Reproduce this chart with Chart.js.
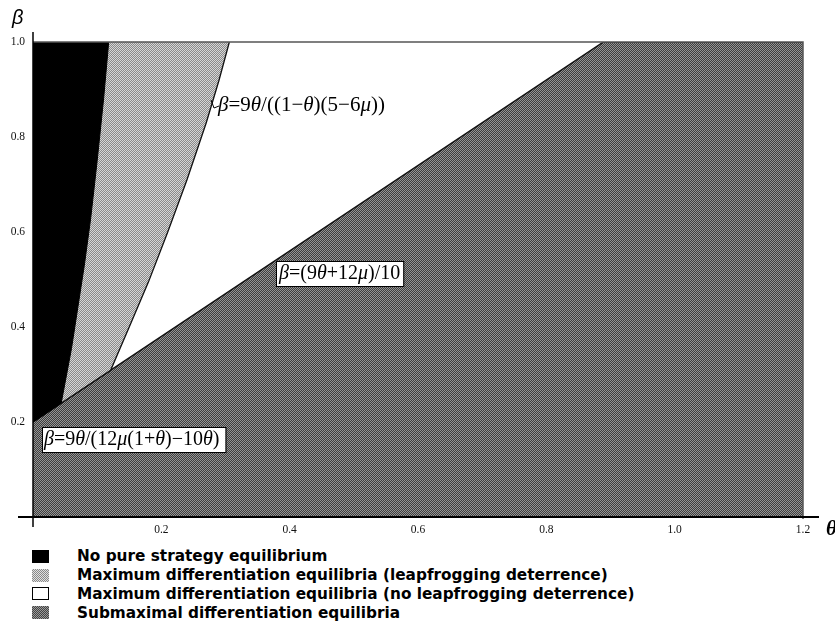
<!DOCTYPE html>
<html>
<head>
<meta charset="utf-8">
<script src="https://cdn.jsdelivr.net/npm/chart.js@4"></script>
<style>
    body { margin: 0; background: #fff; width: 835px; height: 644px; overflow: hidden; position: relative; }
    #wrap { position: absolute; left: 0; top: 0; width: 835px; height: 540px; }
    .legend { position: absolute; left: 32px; top: 547px; font: bold 15.3px "DejaVu Sans", sans-serif; color: #000; }
    .row { height: 18.8px; display: flex; align-items: center; }
    .sw { width: 17px; height: 13px; margin-right: 28px; box-sizing: border-box; }
</style>
</head>
<body>
<div id="wrap"><canvas id="chart" width="835" height="540"></canvas></div>
<div class="legend" id="legend"></div>
<script>
// tick labels
const xTicks = [0.2, 0.4, 0.6, 0.8, 1.0, 1.2];
const xTickLabels = ['0.2', '0.4', '0.6', '0.8', '1.0', '1.2'];
const yTicks = [0.2, 0.4, 0.6, 0.8, 1.0];
const yTickLabels = ['0.2', '0.4', '0.6', '0.8', '1.0'];

// region boundaries (theta, beta)
const noPureTheta = [0, 0.044, 0.06, 0.08, 0.09, 0.10, 0.11, 0.118];
const noPureBeta  = [0.2, 0.24, 0.355, 0.53, 0.63, 0.75, 0.88, 1.0];

const leapTheta = [0, 0.121, 0.15, 0.18, 0.21, 0.24, 0.27, 0.29, 0.306];
const leapBeta  = [0.2, 0.309, 0.40, 0.495, 0.60, 0.71, 0.83, 0.92, 1.0];

const subTheta = [0, 0.889, 1.2];
const subBeta  = [0.2, 1.0, 1.0];

const legendLabels = [
    'No pure strategy equilibrium',
    'Maximum differentiation equilibria (leapfrogging deterrence)',
    'Maximum differentiation equilibria (no leapfrogging deterrence)',
    'Submaximal differentiation equilibria'
];

function pts(xs, ys) {
    return xs.map((x, i) => ({ x: x, y: ys[i] }));
}

const canvas = document.getElementById('chart');
const ctx = canvas.getContext('2d');

function dither(c1, c2) {
    const c = document.createElement('canvas');
    c.width = c.height = 2;
    const g = c.getContext('2d');
    g.fillStyle = c1;
    g.fillRect(0, 0, 2, 2);
    g.fillStyle = c2;
    g.fillRect(0, 0, 1, 1);
    g.fillRect(1, 1, 1, 1);
    return ctx.createPattern(c, 'repeat');
}

const lightPat = dither('#8a8a8a', '#d6d6d6');
const darkPat = dither('#3e3e3e', '#949494');

const SERIF = '"Liberation Serif", "Times New Roman", serif';

function richWidth(c, parts, size) {
    let w = 0;
    parts.forEach(([t, it]) => {
        c.font = (it ? 'italic ' : '') + size + 'px ' + SERIF;
        w += c.measureText(t).width;
    });
    return w;
}

function rich(c, parts, x, y, size) {
    let cx = x;
    c.textBaseline = 'middle';
    c.textAlign = 'left';
    parts.forEach(([t, it]) => {
        c.font = (it ? 'italic ' : '') + size + 'px ' + SERIF;
        c.fillText(t, cx, y);
        cx += c.measureText(t).width;
    });
}

const label1 = [['β', 1], ['=9', 0], ['θ', 1], ['/((1−', 0], ['θ', 1], [')(5−6', 0], ['μ', 1], ['))', 0]];
const label2 = [['β', 1], ['=(9', 0], ['θ', 1], ['+12', 0], ['μ', 1], [')/10', 0]];
const label3 = [['β', 1], ['=9', 0], ['θ', 1], ['/(12', 0], ['μ', 1], ['(1+', 0], ['θ', 1], [')−10', 0], ['θ', 1], [')', 0]];

const decor = {
    id: 'decor',
    beforeDraw(chart) {
        const c = chart.ctx;
        c.save();
        c.fillStyle = '#fff';
        c.fillRect(0, 0, chart.width, chart.height);
        c.restore();
    },
    afterDraw(chart) {
        const c = chart.ctx;
        const a = chart.chartArea;
        c.save();
        // frame top / right
        c.strokeStyle = '#555';
        c.lineWidth = 1.5;
        c.beginPath();
        c.moveTo(a.left, a.top);
        c.lineTo(a.right, a.top);
        c.lineTo(a.right, a.bottom + 2);
        c.stroke();
        // axes
        c.strokeStyle = '#000';
        c.lineWidth = 1.5;
        c.beginPath();
        c.moveTo(a.left, a.top - 10);
        c.lineTo(a.left, a.bottom + 10);
        c.stroke();
        c.lineWidth = 2;
        c.beginPath();
        c.moveTo(a.left - 15, a.bottom);
        c.lineTo(a.right + 16, a.bottom);
        c.stroke();

        c.fillStyle = '#000';
        // axis titles
        c.textBaseline = 'middle';
        c.textAlign = 'left';
        c.font = 'italic 20px "Liberation Sans", Arial, sans-serif';
        c.fillText('β', 12, 18);
        c.font = 'italic bold 21px ' + SERIF;
        c.fillText('θ', 826, 530);

        // annotation 1
        c.lineWidth = 1;
        c.beginPath();
        c.moveTo(211, 100);
        c.lineTo(214, 108);
        c.lineTo(219, 106);
        c.stroke();
        rich(c, label1, 218, 105, 21);

        // annotation 2
        let w = richWidth(c, label2, 20);
        c.fillStyle = '#fff';
        c.fillRect(276, 261, w + 6, 25);
        c.strokeStyle = '#000';
        c.strokeRect(276.5, 261.5, w + 6, 25);
        c.fillStyle = '#000';
        rich(c, label2, 279, 274, 20);

        // annotation 3
        w = richWidth(c, label3, 20);
        c.fillStyle = '#fff';
        c.fillRect(42, 427, w + 8, 25);
        c.strokeRect(42.5, 427.5, w + 8, 25);
        c.fillStyle = '#000';
        rich(c, label3, 44, 440, 20);
        c.restore();
    }
};

new Chart(ctx, {
    type: 'line',
    data: {
        datasets: [
            {
                label: legendLabels[0],
                data: pts(noPureTheta, noPureBeta),
                fill: 'end',
                backgroundColor: '#000',
                borderColor: '#000',
                borderWidth: 1,
                pointRadius: 0
            },
            {
                label: legendLabels[1],
                data: pts(leapTheta, leapBeta),
                fill: 'end',
                backgroundColor: lightPat,
                borderColor: '#111',
                borderWidth: 1.3,
                pointRadius: 0
            },
            {
                label: legendLabels[3],
                data: pts(subTheta, subBeta),
                fill: 'start',
                backgroundColor: darkPat,
                borderColor: '#111',
                borderWidth: 1.5,
                pointRadius: 0
            }
        ]
    },
    options: {
        responsive: false,
        animation: false,
        layout: { padding: { top: 42, right: 32, left: 0, bottom: 0 } },
        scales: {
            x: {
                type: 'linear',
                min: 0,
                max: 1.2,
                afterBuildTicks: (s) => { s.ticks = xTicks.map(v => ({ value: v })); },
                afterFit: (s) => { s.height = 23; },
                ticks: {
                    callback: (v, i) => xTickLabels[i],
                    font: { family: 'Liberation Serif', size: 11.5 },
                    color: '#111',
                    padding: 6,
                    maxRotation: 0,
                    autoSkip: false
                },
                grid: { display: false, drawTicks: false },
                border: { display: false }
            },
            y: {
                min: 0,
                max: 1,
                afterBuildTicks: (s) => { s.ticks = yTicks.map(v => ({ value: v })); },
                afterFit: (s) => { s.width = 33; },
                ticks: {
                    callback: (v, i) => yTickLabels[i],
                    font: { family: 'Liberation Serif', size: 11.5 },
                    color: '#111',
                    padding: 8
                },
                grid: { display: false, drawTicks: false },
                border: { display: false }
            }
        },
        plugins: {
            legend: { display: false },
            tooltip: { enabled: false }
        }
    },
    plugins: [decor]
});

// legend below the chart
const swatches = [
    'background:#000',
    'background:repeating-conic-gradient(#8a8a8a 0 25%, #e0e0e0 0 50%) 0 0/2px 2px',
    'background:#fff;border:1.5px solid #000',
    'background:repeating-conic-gradient(#444 0 25%, #9a9a9a 0 50%) 0 0/2px 2px'
];
const legendEl = document.getElementById('legend');
legendLabels.forEach((txt, i) => {
    const row = document.createElement('div');
    row.className = 'row';
    row.innerHTML = '<div class="sw" style="' + swatches[i] + '"></div><span>' + txt + '</span>';
    legendEl.appendChild(row);
});
</script>
</body>
</html>
